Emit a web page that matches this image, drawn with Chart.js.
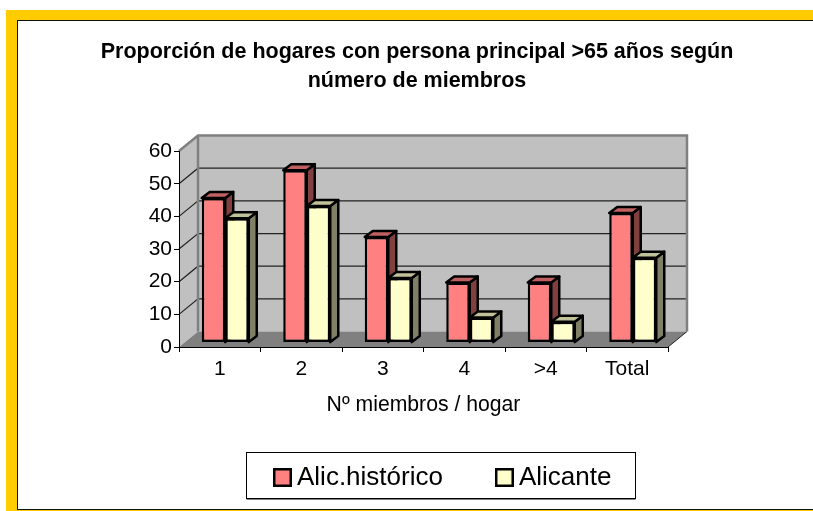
<!DOCTYPE html>
<html>
<head>
<meta charset="utf-8">
<title>Proporción de hogares</title>
<script src="https://cdn.jsdelivr.net/npm/chart.js@4"></script>
<style>
  html, body { margin: 0; padding: 0; background: #fff; overflow: hidden; }
  #page { position: relative; width: 813px; height: 511px; overflow: hidden; }
  #frame { position: absolute; left: 6px; top: 10px; width: 900px; height: 501px; background: #ffcc00; }
  #inner { position: absolute; left: 11px; top: 10px; width: 880px; height: 488px; background: #fff; border: 1px solid #111; }
  canvas { position: absolute; left: 0; top: 0; }
</style>
</head>
<body>
<div id="page">
  <div id="frame"><div id="inner"></div></div>
  <canvas id="chart" width="813" height="511"></canvas>
</div>
<script>
const categories = ["1", "2", "3", "4", ">4", "Total"];
const alicHistorico = [44.3, 52.8, 32.3, 18.4, 18.4, 39.7];
const alicante = [38.1, 41.8, 19.8, 7.7, 6.4, 26];

const FONT = "'Liberation Sans', Arial, sans-serif";

// fake 3d: how far the back wall sits from the axes, and how far bars sit in the room
const wallX = 19, wallY = 15.5;
const barShiftX = 5.5, barShiftY = 4.4;
const barDepthX = 8, barDepthY = 6;

const faces = [
  { front: "#ff8080", side: "#804040", top: "#c06060" },
  { front: "#ffffcc", side: "#808066", top: "#c0c099" },
];

function poly(ctx, pts, fill, stroke, width) {
  ctx.beginPath();
  pts.forEach((p, i) => (i ? ctx.lineTo(p[0], p[1]) : ctx.moveTo(p[0], p[1])));
  ctx.closePath();
  if (fill) {
    ctx.fillStyle = fill;
    ctx.fill();
  }
  if (stroke) {
    ctx.strokeStyle = stroke;
    ctx.lineWidth = width;
    ctx.lineJoin = "round";
    ctx.stroke();
  }
}

function drawRoom(chart) {
  const ctx = chart.ctx;
  const { left, right, top, bottom } = chart.chartArea;
  const y = chart.scales.y;

  poly(ctx, [[left + wallX, top - wallY], [right + wallX, top - wallY], [right + wallX, bottom - wallY], [left + wallX, bottom - wallY]], "#c0c0c0");
  poly(ctx, [[left, top], [left + wallX, top - wallY], [left + wallX, bottom - wallY], [left, bottom]], "#c0c0c0");
  poly(ctx, [[left, bottom], [left + wallX, bottom - wallY], [right + wallX, bottom - wallY], [right, bottom]], "#808080");

  ctx.strokeStyle = "#222";
  ctx.lineWidth = 1.2;
  y.ticks.forEach((t) => {
    if (t.value === 0 || t.value === y.max) return;
    const py = y.getPixelForValue(t.value);
    ctx.beginPath();
    ctx.moveTo(left, py);
    ctx.lineTo(left + wallX, py - wallY);
    ctx.lineTo(right + wallX, py - wallY);
    ctx.stroke();
  });
  ctx.lineWidth = 1;
  ctx.beginPath();
  ctx.moveTo(right, bottom);
  ctx.lineTo(right + wallX, bottom - wallY);
  ctx.stroke();

  ctx.strokeStyle = "#808080";
  ctx.lineWidth = 2.5;
  ctx.beginPath();
  ctx.moveTo(left, top);
  ctx.lineTo(left + wallX, top - wallY);
  ctx.lineTo(right + wallX, top - wallY);
  ctx.lineTo(right + wallX, bottom - wallY);
  ctx.moveTo(left + wallX, top - wallY);
  ctx.lineTo(left + wallX, bottom - wallY);
  ctx.stroke();
}

function drawBars(chart) {
  const ctx = chart.ctx;
  ctx.save();
  ctx.translate(barShiftX, -barShiftY);
  chart.getSortedVisibleDatasetMetas().forEach((meta, d) => {
    const c = faces[d];
    meta.data.forEach((bar) => {
      const { x, y, base, width } = bar.getProps(["x", "y", "base", "width"]);
      const l = x - width / 2, r = x + width / 2;
      poly(ctx, [[r, y], [r + barDepthX, y - barDepthY], [r + barDepthX, base - barDepthY], [r, base]], c.side, "#000", 2.5);
      poly(ctx, [[l, y], [l + barDepthX, y - barDepthY], [r + barDepthX, y - barDepthY], [r, y]], c.top, "#000", 2.5);
      bar.draw(ctx);
    });
  });
  ctx.restore();
}

function swatch(color) {
  const c = document.createElement("canvas");
  c.width = 19;
  c.height = 19;
  const g = c.getContext("2d");
  g.fillStyle = "#000";
  g.fillRect(0, 0, 19, 19);
  g.fillStyle = color;
  g.fillRect(2.5, 2.5, 14, 14);
  return c;
}

const room3d = {
  id: "room3d",
  afterLayout(chart) {
    // the title and the legend do not sit centred on the canvas in the original
    const t = chart.titleBlock;
    t.left = 21;
    t.right = 813;
    const l = chart.legend;
    l.left = 221;
    l.right = 660;
    l.top = 404.5;
    l.bottom = 511;
  },
  beforeDatasetsDraw(chart) {
    drawRoom(chart);
    drawBars(chart);
    return false;
  },
  afterDraw(chart) {
    const ctx = chart.ctx;
    ctx.strokeStyle = "#808080";
    ctx.lineWidth = 1;
    ctx.beginPath();
    ctx.moveTo(246.5, 499.5);
    ctx.lineTo(635.5, 499.5);
    ctx.stroke();
    ctx.strokeStyle = "#000";
    ctx.strokeRect(246.5, 452.5, 389, 46);
  },
};

new Chart(document.getElementById("chart"), {
  type: "bar",
  data: {
    labels: categories,
    datasets: [
      { label: "Alic.histórico", data: alicHistorico, backgroundColor: faces[0].front, borderColor: "#000", borderWidth: 2.5, borderSkipped: false },
      { label: "Alicante", data: alicante, backgroundColor: faces[1].front, borderColor: "#000", borderWidth: 2.5, borderSkipped: false },
    ],
  },
  options: {
    responsive: false,
    animation: false,
    layout: { padding: { left: 0, right: 145, top: 0, bottom: 93 } },
    datasets: { bar: { categoryPercentage: 0.577, barPercentage: 1 } },
    scales: {
      x: {
        afterFit: (s) => { s.height = 71; },
        grid: { drawOnChartArea: false, tickLength: 5, color: "#000", z: 1 },
        border: { color: "#000", z: 1 },
        ticks: { color: "#000", font: { family: FONT, size: 21 }, padding: 5, maxRotation: 0 },
        title: { display: true, text: "Nº miembros / hogar", color: "#000", font: { family: FONT, size: 21.2 }, padding: 0 },
      },
      y: {
        min: 0,
        max: 60,
        afterFit: (s) => { s.width = 179; },
        grid: { drawOnChartArea: false, tickLength: 5, color: "#000", z: 1 },
        border: { color: "#000", z: 1 },
        ticks: { stepSize: 10, color: "#000", font: { family: FONT, size: 21 }, padding: 2 },
      },
    },
    plugins: {
      title: {
        display: true,
        text: ["Proporción de hogares con persona principal >65 años según", "número de miembros"],
        color: "#000",
        font: { family: FONT, size: 21.5, weight: "bold", lineHeight: 1.35 },
        padding: { top: 37.5, bottom: 55.5 },
      },
      legend: {
        position: "chartArea",
        align: "start",
        labels: {
          color: "#000",
          font: { family: FONT, size: 26 },
          usePointStyle: true,
          boxWidth: 3,
          padding: 60,
          generateLabels(chart) {
            return Chart.defaults.plugins.legend.labels.generateLabels(chart).map((it, i) => ({ ...it, pointStyle: swatch(faces[i].front) }));
          },
        },
      },
      tooltip: { enabled: false },
    },
  },
  plugins: [room3d],
});
</script>
</body>
</html>
